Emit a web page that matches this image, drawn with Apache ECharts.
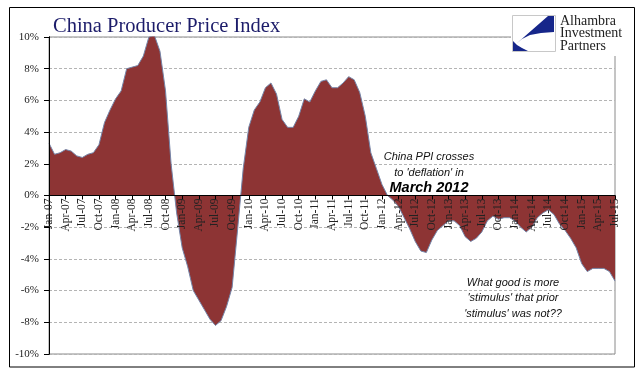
<!DOCTYPE html>
<html>
<head>
<meta charset="utf-8">
<script src="https://cdn.jsdelivr.net/npm/echarts@6/dist/echarts.min.js"></script>
<style>
html,body{margin:0;padding:0;background:#fff;}
#chart{width:641px;height:379px;}
</style>
</head>
<body>
<div id="chart"></div>
<script>
// ---- data ----
var years = ['07','08','09','10','11','12','13','14','15'];
var monthNames = ['Jan','Feb','Mar','Apr','May','Jun','Jul','Aug','Sep','Oct','Nov','Dec'];
var ppi2007 = [3.3, 2.6, 2.7, 2.9, 2.8, 2.5, 2.4, 2.6, 2.7, 3.2, 4.6, 5.4];
var ppi2008 = [6.1, 6.6, 8.0, 8.1, 8.2, 8.8, 10.0, 10.1, 9.1, 6.6, 2.0, -1.1];
var ppi2009 = [-3.3, -4.5, -6.0, -6.6, -7.2, -7.8, -8.2, -7.9, -7.0, -5.8, -2.1, 1.7];
var ppi2010 = [4.3, 5.4, 5.9, 6.8, 7.1, 6.4, 4.8, 4.3, 4.3, 5.0, 6.1, 5.9];
var ppi2011 = [6.6, 7.2, 7.3, 6.8, 6.8, 7.1, 7.5, 7.3, 6.5, 5.0, 2.7, 1.7];
var ppi2012 = [0.7, 0.0, -0.3, -0.7, -1.4, -2.1, -2.9, -3.5, -3.6, -2.8, -2.2, -1.9];
var ppi2013 = [-1.6, -1.6, -1.9, -2.6, -2.9, -2.7, -2.3, -1.6, -1.3, -1.5, -1.4, -1.4];
var ppi2014 = [-1.6, -2.0, -2.3, -2.0, -1.4, -1.1, -0.9, -1.2, -1.8, -2.2, -2.7, -3.3];
var ppi2015 = [-4.3, -4.8, -4.6, -4.6, -4.6, -4.8, -5.4];
var yTicks = [-10, -8, -6, -4, -2, 0, 2, 4, 6, 8, 10];

var values = [].concat(ppi2007, ppi2008, ppi2009, ppi2010, ppi2011, ppi2012, ppi2013, ppi2014, ppi2015);
var categories = [];
for (var y = 0; y < years.length; y++) {
  for (var m = 0; m < 12; m++) {
    if (categories.length < values.length) categories.push(monthNames[m] + '-' + years[y]);
  }
}

var serif = '"Liberation Serif", "DejaVu Serif", serif';
var sans = '"Liberation Sans", Arial, sans-serif';

var H = 379, gridTop = 37, gridBottom = 25;
var zeroPx = gridTop + (H - gridTop - gridBottom) / 2; // y of 0% (axis is symmetric)

var chart = echarts.init(document.getElementById('chart'), null, {renderer: 'canvas'});
chart.setOption({
  animation: false,
  backgroundColor: '#ffffff',
  title: {
    text: 'China Producer Price Index',
    left: 48, top: 11,
    textStyle: {fontFamily: serif, fontSize: 20.5, fontWeight: 'normal', color: '#1c1c6a'}
  },
  grid: [{
    left: 49, right: 26, top: gridTop, bottom: gridBottom,
    outerBoundsMode: 'none', containLabel: false,
    show: true, borderColor: '#8a8a8a', borderWidth: 1, backgroundColor: 'transparent'
  }, {
    left: 49, right: 26, top: gridTop, bottom: H - zeroPx,
    outerBoundsMode: 'none', containLabel: false, show: false
  }],
  xAxis: [{
    type: 'category',
    gridIndex: 0,
    data: categories,
    boundaryGap: false,
    axisLine: {show: false},
    axisTick: {show: false},
    axisLabel: {show: false},
    splitLine: {show: false}
  }, {
    type: 'category',
    gridIndex: 1,
    position: 'bottom',
    data: categories,
    boundaryGap: false,
    z: 4,
    axisLine: {show: true, onZero: false, lineStyle: {color: '#000', width: 1}},
    axisTick: {show: true, interval: 2, length: 4, lineStyle: {color: '#000'}},
    axisLabel: {
      interval: 2, rotate: 90, margin: 3,
      fontFamily: serif, fontSize: 11.5, color: '#222'
    },
    splitLine: {show: false}
  }],
  yAxis: [{
    type: 'value',
    gridIndex: 0,
    min: yTicks[0], max: yTicks[yTicks.length - 1], interval: 2,
    axisLine: {show: true, onZero: false, lineStyle: {color: '#000'}},
    axisTick: {show: true, length: 5, lineStyle: {color: '#000'}},
    axisLabel: {
      margin: 10, fontFamily: serif, fontSize: 11, color: '#222',
      formatter: function (v) { return v + '%'; }
    },
    splitLine: {show: true, lineStyle: {color: '#b4b4b4', type: [3, 2], width: 1}}
  }, {
    type: 'value',
    gridIndex: 0,
    position: 'left',
    min: yTicks[0], max: yTicks[yTicks.length - 1], interval: 2,
    z: 4,
    axisLine: {show: true, onZero: false, lineStyle: {color: '#000'}},
    axisTick: {show: false},
    axisLabel: {show: false},
    splitLine: {show: false}
  }, {
    type: 'value',
    gridIndex: 1,
    min: 0, max: yTicks[yTicks.length - 1],
    show: false
  }],
  series: [{
    type: 'line',
    xAxisIndex: 0, yAxisIndex: 0,
    data: values,
    symbol: 'none',
    smooth: false,
    lineStyle: {color: '#7585a8', width: 1},
    areaStyle: {color: '#8d3434', opacity: 1},
    z: 2
  }],
  graphic: [
    {type: 'rect', shape: {x: 9.5, y: 7.5, width: 625, height: 359.5}, style: {fill: 'none', stroke: '#000', lineWidth: 1}, z: 10, silent: true},
    {type: 'rect', shape: {x: 511, y: 10, width: 122, height: 46}, style: {fill: '#fff'}, z: 20},
    {type: 'rect', shape: {x: 512.5, y: 15.5, width: 43, height: 36}, style: {fill: '#fff', stroke: '#c8c8c8', lineWidth: 1}, z: 21},
    {type: 'polygon', shape: {points: [[554,16],[548,16],[516,44],[522,39],[530,35],[541,33],[554,32]]}, style: {fill: '#16268a'}, z: 22},
    {type: 'polygon', shape: {points: [[513,51],[528,51],[522,48],[517,45],[513,41]]}, style: {fill: '#16268a'}, z: 22},
    {type: 'text', x: 560, y: 15, style: {text: 'Alhambra\nInvestment\nPartners', font: '14px ' + serif, fill: '#222', lineHeight: 12.5}, z: 22},
    {type: 'text', x: 429, y: 149, style: {text: 'China PPI crosses\nto \'deflation\' in', font: 'italic 11px ' + sans, fill: '#111', textAlign: 'center', lineHeight: 16}, z: 12},
    {type: 'text', x: 429, y: 180, style: {text: 'March 2012', font: 'italic bold 14.5px ' + sans, fill: '#000', textAlign: 'center'}, z: 12},
    {type: 'text', x: 513, y: 275, style: {text: 'What good is more\n\'stimulus\' that prior\n\'stimulus\' was not??', font: 'italic 11px ' + sans, fill: '#111', textAlign: 'center', lineHeight: 15.5}, z: 12}
  ]
});
</script>
</body>
</html>
